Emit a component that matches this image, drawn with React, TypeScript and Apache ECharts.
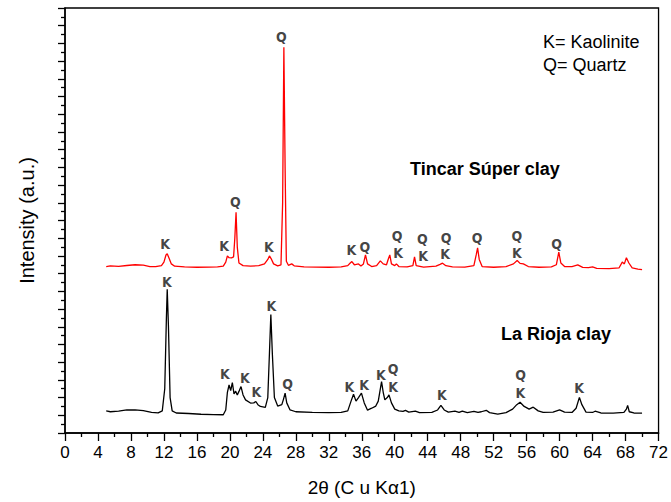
import React, { useEffect, useRef } from "react";
import * as echarts from "echarts";

// 2θ (deg), intensity (a.u.)
const tincarCurve: [number, number][] = [
  [5.0, 940], [5.5, 944], [6.5, 941], [7.5, 946], [8.5, 950], [9.5, 948], [10.3, 940], [11.0, 939],
  [11.7, 945], [12.0, 965], [12.25, 1005], [12.4, 1012], [12.6, 990], [12.9, 955], [13.3, 942],
  [14.5, 938], [16, 936], [17.5, 937], [18.5, 938], [19.2, 942], [19.5, 965], [19.7, 1000], [19.9, 990],
  [20.2, 989], [20.45, 995], [20.6, 1100], [20.75, 1247], [20.9, 1050], [21.1, 960], [21.6, 945],
  [22.5, 942], [23.5, 945], [24.2, 955], [24.6, 980], [24.8, 1000], [25.0, 985], [25.3, 955],
  [25.8, 944], [26.2, 950], [26.4, 1300], [26.55, 2178], [26.7, 1500], [26.85, 970], [27.1, 947],
  [27.5, 955], [27.8, 944], [29, 938], [30.5, 937], [32, 936], [33.5, 938], [34.3, 945], [34.6, 960],
  [34.8, 968], [35.1, 950], [35.6, 955], [35.9, 943], [36.2, 955], [36.45, 1006], [36.7, 955],
  [37.2, 940], [37.8, 945], [38.25, 972], [38.6, 955], [39.0, 950], [39.2, 980], [39.4, 1006],
  [39.6, 955], [40.0, 945], [40.2, 955], [40.5, 940], [41.5, 938], [42.2, 945], [42.4, 994],
  [42.6, 945], [43.5, 937], [45.0, 942], [45.5, 952], [45.8, 959], [46.2, 945], [47, 938], [48.5, 937],
  [49.6, 945], [49.9, 1010], [50.05, 1045], [50.25, 980], [50.6, 940], [52, 936], [53.5, 940],
  [54.4, 955], [54.85, 974], [55.2, 958], [55.6, 955], [56.2, 940], [57.5, 936], [59.0, 938],
  [59.6, 950], [59.9, 1021], [60.15, 960], [60.6, 940], [61.5, 940], [62.2, 949], [62.8, 935],
  [63.5, 934], [64.0, 938], [64.5, 930], [66, 928], [67.2, 932], [67.6, 965], [67.85, 955],
  [68.1, 990], [68.4, 960], [68.8, 932], [69.5, 926], [70.0, 923],
];

const riojaCurve: [number, number][] = [
  [5.0, 125], [5.5, 120], [6.5, 124], [7.5, 130], [8.5, 131], [9.5, 126], [10.5, 116], [11.3, 114],
  [11.8, 125], [12.1, 250], [12.3, 650], [12.4, 811], [12.55, 600], [12.75, 200], [13.0, 125],
  [13.5, 113], [15, 110], [16.5, 106], [18, 104], [19.2, 103], [19.5, 130], [19.7, 230], [19.9, 271],
  [20.1, 240], [20.3, 285], [20.5, 221], [20.7, 236], [20.9, 215], [21.1, 235], [21.35, 262],
  [21.6, 215], [21.9, 187], [22.5, 169], [22.9, 170], [23.15, 178], [23.4, 160], [23.7, 150],
  [24.3, 145], [24.6, 200], [24.8, 450], [24.97, 669], [25.15, 450], [25.4, 200], [25.8, 152],
  [26.3, 160], [26.5, 190], [26.7, 225], [26.9, 170], [27.3, 130], [28, 120], [30, 116], [32, 115],
  [33.5, 116], [34.3, 125], [34.7, 180], [35.0, 219], [35.3, 180], [35.6, 200], [35.96, 225],
  [36.3, 170], [36.7, 129], [37.2, 140], [37.7, 152], [38.0, 180], [38.4, 290], [38.6, 230],
  [38.8, 187], [39.1, 200], [39.3, 215], [39.6, 170], [40.0, 135], [40.5, 125], [41.0, 122],
  [41.3, 128], [41.7, 118], [42.5, 124], [43.0, 115], [44.5, 116], [45.2, 130], [45.6, 156],
  [46.0, 130], [46.5, 118], [47.3, 124], [47.8, 116], [48.2, 124], [48.8, 115], [49.6, 122],
  [50.1, 116], [50.5, 120], [51.1, 128], [51.5, 115], [52.5, 107], [53.5, 115], [54.3, 135],
  [54.8, 160], [55.2, 174], [55.7, 150], [56.3, 135], [56.8, 146], [57.4, 125], [58, 116],
  [59.2, 118], [60.0, 131], [60.6, 118], [61.5, 116], [62.0, 140], [62.4, 201], [62.7, 160],
  [63.2, 118], [64.0, 116], [64.3, 123], [65, 113], [66.5, 112], [67.8, 116], [68.1, 135],
  [68.25, 156], [68.45, 120], [69, 113], [70.0, 112],
];

// phase annotations: [2θ, intensity, label]
const tincarPeaks: [number, number, string][] = [
  [12.2, 1067, "K"], [19.36, 1056, "K"], [20.74, 1302, "Q"], [24.8, 1049, "K"], [26.3, 2234, "Q"],
  [34.79, 1030, "K"], [36.45, 1049, "Q"], [40.35, 1111, "Q"], [40.47, 1011, "K"], [43.4, 1092, "Q"],
  [43.49, 998, "K"], [46.3, 1096, "Q"], [46.18, 1007, "K"], [50.05, 1099, "Q"], [54.88, 1111, "Q"],
  [54.88, 1011, "K"], [59.71, 1063, "Q"],
];

const riojaPeaks: [number, number, string][] = [
  [12.41, 848, "K"], [19.45, 328, "K"], [21.87, 309, "K"], [23.28, 230, "K"], [25.09, 712, "K"],
  [27.06, 275, "Q"], [34.55, 257, "K"], [36.36, 268, "K"], [38.38, 322, "K"], [39.86, 356, "Q"],
  [39.86, 257, "K"], [45.78, 210, "K"], [55.33, 322, "Q"], [55.29, 225, "K"], [62.42, 249, "K"],
];

const sampleNames = ["Tincar Súper clay", "La Rioja clay"];
const legendLines = ["K= Kaolinite", "Q= Quartz"];

const AXIS_FONT = "'Liberation Sans', Arial, sans-serif";
const PEAK_FONT = "'DejaVu Sans Condensed', 'Liberation Sans Narrow', sans-serif";

function peakSeries(peaks: [number, number, string][]) {
  return {
    type: "scatter",
    symbolSize: 1,
    silent: true,
    itemStyle: { color: "rgba(0,0,0,0)" },
    data: peaks.map((p) => ({ value: [p[0], p[1]], name: p[2] })),
    label: {
      show: true,
      position: [0, 0],
      align: "center",
      verticalAlign: "middle",
      formatter: (p: any) => p.name,
      color: "#111111",
      fontSize: 14,
      fontWeight: "bold",
      fontFamily: PEAK_FONT,
    },
    z: 5,
  };
}

export default function App() {
  const ref = useRef<HTMLDivElement>(null);
  useEffect(() => {
    if (!ref.current) return;
    const chart = echarts.init(ref.current, undefined, { renderer: "svg" });
    chart.setOption({
      animation: false,
      backgroundColor: "#ffffff",
      grid: {
        left: 65,
        right: 10,
        top: 8,
        bottom: 67,
        show: true,
        borderColor: "#000",
        borderWidth: 1.3,
        backgroundColor: "transparent",
      },
      xAxis: {
        type: "value",
        min: 0,
        max: 72,
        interval: 4,
        name: "2θ (C u Kα1)",
        nameLocation: "middle",
        nameGap: 45,
        nameTextStyle: { fontSize: 19, color: "#000", fontFamily: AXIS_FONT },
        axisLine: { show: true, onZero: false, lineStyle: { color: "#000", width: 1.5 } },
        axisTick: { show: true, length: 8, inside: false, lineStyle: { color: "#000", width: 1.3 } },
        minorTick: { show: true, splitNumber: 2, length: 4, lineStyle: { color: "#000", width: 1.3 } },
        axisLabel: { fontSize: 17, color: "#000", margin: 11, fontFamily: AXIS_FONT },
        splitLine: { show: false },
      },
      yAxis: {
        type: "value",
        min: 0,
        max: 2400,
        interval: 100,
        name: "Intensity (a.u.)",
        nameLocation: "middle",
        nameGap: 28,
        nameTextStyle: { fontSize: 20, color: "#000", fontFamily: AXIS_FONT },
        axisLine: { show: true, onZero: false, lineStyle: { color: "#000", width: 1.5 } },
        axisTick: { show: true, length: 7, inside: false, lineStyle: { color: "#000", width: 1.3 } },
        minorTick: { show: true, splitNumber: 2, length: 4, lineStyle: { color: "#000", width: 1.3 } },
        axisLabel: { show: false },
        splitLine: { show: false },
      },
      series: [
        {
          type: "line",
          name: sampleNames[0],
          data: tincarCurve,
          showSymbol: false,
          symbol: "none",
          lineStyle: { color: "#ff0000", width: 1.3 },
          silent: true,
          z: 3,
        },
        {
          type: "line",
          name: sampleNames[1],
          data: riojaCurve,
          showSymbol: false,
          symbol: "none",
          lineStyle: { color: "#000000", width: 1.3 },
          silent: true,
          z: 3,
        },
        peakSeries(tincarPeaks),
        peakSeries(riojaPeaks),
      ],
      graphic: [
        {
          type: "text",
          left: 410,
          top: 160,
          style: {
            text: sampleNames[0],
            font: `bold 18px ${AXIS_FONT}`,
            fill: "#000",
          },
        },
        {
          type: "text",
          left: 501,
          top: 325,
          style: {
            text: sampleNames[1],
            font: `bold 18px ${AXIS_FONT}`,
            fill: "#000",
          },
        },
        {
          type: "text",
          left: 543,
          top: 33,
          style: { text: legendLines[0], font: `18px ${AXIS_FONT}`, fill: "#000" },
        },
        {
          type: "text",
          left: 543,
          top: 56,
          style: { text: legendLines[1], font: `18px ${AXIS_FONT}`, fill: "#000" },
        },
      ],
    });
    return () => chart.dispose();
  }, []);
  return <div ref={ref} style={{ width: 671, height: 502, position: "absolute", left: 0, top: 0 }} />;
}
